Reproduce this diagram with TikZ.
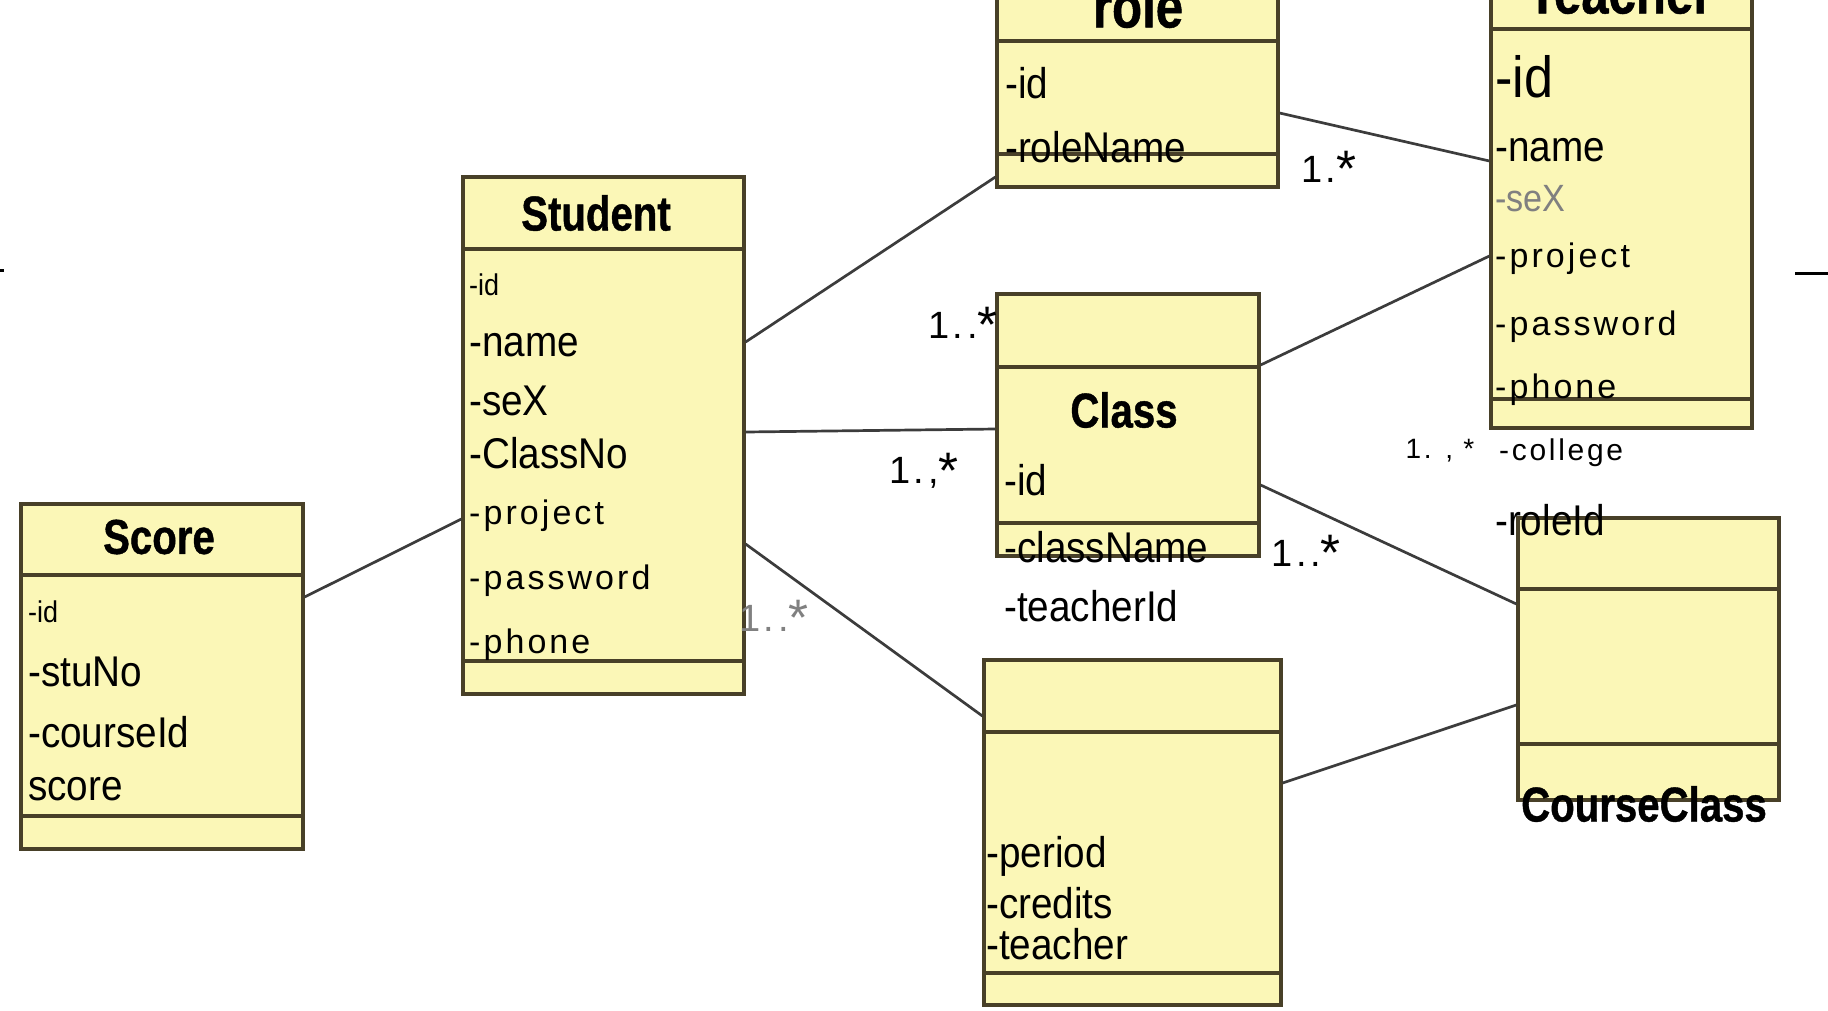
\documentclass[tikz,border=0pt]{standalone}
\usepackage{fontspec}
\setmainfont{Liberation Sans}
\newfontfamily\titlefont{Liberation Sans}[FakeStretch=0.82, FakeBold=0.8]
\newfontfamily\attrfont{Liberation Sans}[FakeStretch=0.9]
\newfontfamily\spacedfont{Liberation Sans}[LetterSpace=9]
\usepackage{tikz}
\usetikzlibrary{fit}
\definecolor{boxfill}{RGB}{251,247,183}
\definecolor{boxedge}{RGB}{72,64,40}
\definecolor{linkgray}{RGB}{60,60,60}
% bigger star for the multiplicities
\newcommand{\mstar}{\raisebox{-0.12em}{\scalebox{1.35}{*}}}

\begin{document}
\begin{tikzpicture}[x=1pt, y=-1pt]
    \tikzstyle{classbox} = [rectangle, draw=boxedge, fill=boxfill, line width=3.2pt, inner sep=0pt]
    \tikzstyle{divider} = [draw=boxedge, line width=3.2pt]
    \tikzstyle{classname} = [inner sep=0pt, font=\titlefont\bfseries\fontsize{49}{55}\selectfont]
    \tikzstyle{bigname} = [inner sep=0pt, font=\titlefont\bfseries\fontsize{60}{66}\selectfont]
    \tikzstyle{attr} = [anchor=west, inner sep=0pt, font=\attrfont\fontsize{43}{48}\selectfont]
    \tikzstyle{smallattr} = [attr, font=\attrfont\fontsize{30}{34}\selectfont]
    \tikzstyle{spaced} = [anchor=west, inner sep=0pt, font=\spacedfont\fontsize{34}{40}\selectfont]
    \tikzstyle{mult} = [inner sep=0pt, font=\spacedfont\fontsize{38}{44}\selectfont]
    \tikzstyle{assoc} = [draw=linkgray, line width=2.7pt]
    \useasboundingbox (0,0) rectangle (1828,1010);
    \clip (0,0) rectangle (1828,1010);
    % class boxes: name/left/top/right/bottom/first line/second line
    \foreach \nm/\xa/\ya/\xb/\yb/\la/\lb in {role/997/-31/1278/187/41/154,
        teacher/1491/-43/1752/428/29/399, student/463/177/744/694/249/661,
        score/21/504/303/849/575/816, class/997/294/1259/556/367/523,
        course/984/660/1281/1005/732/973, courseclass/1518/518/1779/800/589/744} {
        \node[classbox, fit={(\xa,\ya) (\xb,\yb)}] (\nm) {};
        \draw[divider] (\xa,\la) -- (\xb,\la);
        \draw[divider] (\xa,\lb) -- (\xb,\lb);
    }
    % associations
    \draw[assoc] (score.east |- 0,597) -- (student.west |- 0,519);
    \draw[assoc] (student.east |- 0,342) -- (role.west |- 0,177);
    \draw[assoc] (student.east |- 0,432) -- (class.west |- 0,429);
    \draw[assoc] (student.east |- 0,544) -- (course.west |- 0,716);
    \draw[assoc] (role.east |- 0,113) -- (teacher.west |- 0,161);
    \draw[assoc] (class.east |- 0,365) -- (teacher.west |- 0,256);
    \draw[assoc] (class.east |- 0,485) -- (courseclass.west |- 0,604);
    \draw[assoc] (course.east |- 0,783) -- (courseclass.west |- 0,705);
    % titles
    \node[bigname] (role-title) at (1138,6) {role};
    \node[bigname] (teacher-title) at (1620,-8) {Teacher};
    \node[classname] (student-title) at (596,213) {Student};
    \node[classname] (score-title) at (159,537) {Score};
    \node[classname] (class-title) at (1124,410) {Class};
    \node[classname] (courseclass-title) at (1644,804) {CourseClass};
    % attributes
    \foreach \a/\y in {id/83, roleName/147} \node[attr] (role-\a) at (1005,\y) {-\a};
    \node[attr, font=\attrfont\fontsize{58}{64}\selectfont] (teacher-id) at (1495,77) {-id};
    \node[attr] (teacher-name) at (1495,150) {-name};
    \node[attr, text=gray, font=\attrfont\fontsize{38}{42}\selectfont] (teacher-seX) at (1495,199) {-seX};
    \foreach \a/\y in {project/259, password/327, phone/390} \node[spaced] (teacher-\a) at (1495,\y) {-\a};
    \node[spaced, font=\spacedfont\fontsize{30}{34}\selectfont] (teacher-college) at (1499,453) {-college};
    \node[attr] (teacher-roleId) at (1495,520) {-roleId};
    \node[smallattr] (student-id) at (469,285) {-id};
    \foreach \a/\y in {name/345, seX/401, ClassNo/453} \node[attr] (student-\a) at (469,\y) {-\a};
    \foreach \a/\y in {project/516, password/581, phone/645} \node[spaced] (student-\a) at (469,\y) {-\a};
    \node[smallattr] (score-id) at (28,612) {-id};
    \foreach \a/\y in {stuNo/672, courseId/732} \node[attr] (score-\a) at (28,\y) {-\a};
    \node[attr] (score-score) at (28,789) {score};
    \foreach \a/\y in {id/480, className/547, teacherId/606} \node[attr] (class-\a) at (1004,\y) {-\a};
    \foreach \a/\y in {period/856, credits/903, teacher/944} \node[attr] (course-\a) at (986,\y) {-\a};
    % multiplicities
    \node[mult] (mult-role) at (1329,169) {1.\mstar};
    \node[mult] (mult-class-a) at (963,325) {1..\mstar};
    \node[mult] (mult-class-b) at (924,471) {1.,\mstar};
    \node[mult] (mult-courseclass) at (1306,553) {1..\mstar};
    \node[mult, text=gray] (mult-course) at (774,618) {1..\mstar};
    \node[mult, font=\spacedfont\fontsize{28}{32}\selectfont] (mult-teacher) at (1440,451) {1. , *};
    % cut-off strokes at the sides
    \draw[line width=3pt] (0,270) -- (4,270);
    \draw[line width=3pt] (1795,273) -- (1828,273);
\end{tikzpicture}
\end{document}
